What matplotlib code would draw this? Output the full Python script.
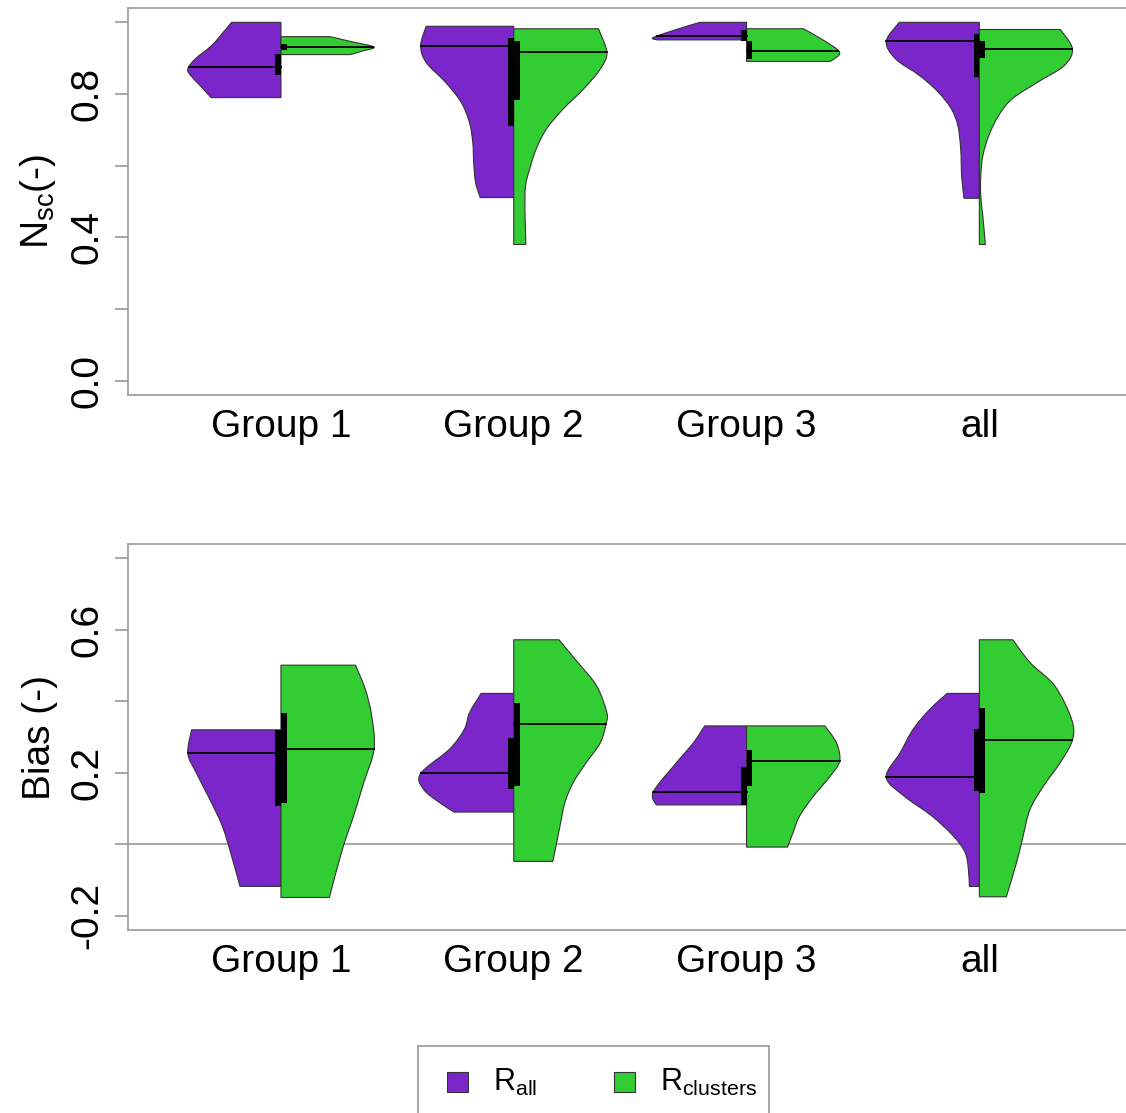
import numpy as np
import matplotlib
matplotlib.use("Agg")
import matplotlib.pyplot as plt
from matplotlib.patches import Rectangle, PathPatch
from matplotlib.path import Path

plt.rcParams["font.family"] = ["Liberation Sans", "DejaVu Sans"]
plt.rcParams["mathtext.fontset"] = "custom"
plt.rcParams["mathtext.rm"] = "Liberation Sans"

groups = ["Group 1", "Group 2", "Group 3", "all"]
purple = "#7B26CB"
green = "#32CD32"
gray = "#999999"

# violin outlines: levels and relative half widths (1 = widest)
# top panel, Nsc
nsc_rall_y = [[0.79, 0.824, 0.852, 0.870, 0.898, 0.935, 0.972, 1.0],
              [0.511, 0.553, 0.609, 0.665, 0.721, 0.777, 0.832, 0.888, 0.935, 0.989],
              [0.951, 0.958, 0.982, 1.0],
              [0.509, 0.571, 0.646, 0.711, 0.758, 0.805, 0.851, 0.898, 0.947, 1.0]]
nsc_rall_w = [[0.75, 0.87, 0.97, 1.0, 0.92, 0.745, 0.62, 0.53],
              [0.36, 0.41, 0.43, 0.44, 0.476, 0.565, 0.73, 0.94, 1.0, 0.94],
              [0.96, 1.0, 0.73, 0.50],
              [0.165, 0.19, 0.20, 0.23, 0.30, 0.44, 0.64, 0.90, 1.0, 0.86]]
nsc_rall_med = [0.874, 0.935, 0.961, 0.947]
nsc_rall_q1 = [0.852, 0.711, 0.949, 0.847]
nsc_rall_q3 = [0.912, 0.957, 0.979, 0.968]

nsc_rclu_y = [[0.910, 0.919, 0.931, 0.947, 0.960],
              [0.380, 0.422, 0.478, 0.543, 0.590, 0.646, 0.702, 0.758, 0.814, 0.870, 0.916, 0.982],
              [0.891, 0.916, 0.951, 0.982],
              [0.380, 0.460, 0.516, 0.571, 0.627, 0.683, 0.739, 0.786, 0.832, 0.879, 0.926, 0.980]]
nsc_rclu_w = [[0.75, 0.86, 1.0, 0.74, 0.53],
              [0.13, 0.126, 0.12, 0.126, 0.17, 0.24, 0.35, 0.53, 0.75, 0.93, 1.0, 0.91],
              [0.90, 1.0, 0.82, 0.61],
              [0.065, 0.037, 0.015, 0.015, 0.037, 0.10, 0.205, 0.35, 0.62, 0.91, 1.0, 0.87]]
nsc_rclu_med = [0.930, 0.916, 0.919, 0.926]
nsc_rclu_q1 = [0.924, 0.782, 0.898, 0.900]
nsc_rclu_q3 = [0.940, 0.949, 0.949, 0.949]

# bottom panel, Bias
bias_rall_y = [[-0.118, -0.033, 0.051, 0.126, 0.200, 0.254, 0.320],
               [0.090, 0.117, 0.154, 0.198, 0.266, 0.322, 0.368, 0.422],
               [0.110, 0.147, 0.229, 0.284, 0.331],
               [-0.118, -0.070, -0.023, 0.023, 0.079, 0.135, 0.188, 0.256, 0.322, 0.378, 0.422]]
bias_rall_w = [[0.44, 0.53, 0.63, 0.765, 0.91, 1.0, 0.96],
               [0.64, 0.80, 0.97, 1.0, 0.69, 0.53, 0.475, 0.35],
               [0.97, 1.0, 0.75, 0.57, 0.45],
               [0.107, 0.118, 0.153, 0.28, 0.51, 0.81, 1.0, 0.85, 0.71, 0.53, 0.345]]
bias_rall_med = [0.254, 0.198, 0.147, 0.188]
bias_rall_q1 = [0.107, 0.154, 0.110, 0.149]
bias_rall_q3 = [0.320, 0.298, 0.217, 0.322]

bias_rclu_y = [[-0.149, -0.014, 0.079, 0.173, 0.266, 0.359, 0.434, 0.501],
               [-0.048, 0.042, 0.117, 0.173, 0.229, 0.284, 0.336, 0.368, 0.443, 0.508, 0.572],
               [-0.008, 0.033, 0.079, 0.135, 0.191, 0.233, 0.284, 0.331],
               [-0.147, -0.051, 0.023, 0.098, 0.163, 0.229, 0.292, 0.350, 0.443, 0.508, 0.572]]
bias_rclu_w = [[0.52, 0.66, 0.78, 0.89, 1.0, 0.975, 0.905, 0.80],
               [0.42, 0.49, 0.55, 0.64, 0.78, 0.93, 0.99, 1.0, 0.89, 0.69, 0.485],
               [0.44, 0.50, 0.57, 0.72, 0.90, 1.0, 0.965, 0.84],
               [0.29, 0.40, 0.47, 0.545, 0.69, 0.87, 1.0, 0.99, 0.81, 0.545, 0.36]]
bias_rclu_med = [0.266, 0.336, 0.233, 0.292]
bias_rclu_q1 = [0.114, 0.163, 0.163, 0.142]
bias_rclu_q3 = [0.366, 0.396, 0.264, 0.382]

half = 0.4   # max half width of a violin
boxw = 0.025


def half_violin(ax, x0, ys, ws, med, q1, q3, color, side):
    ys = np.array(ys)
    ws = np.array(ws) * half * side
    P = np.column_stack([x0 + ws, ys])
    # smooth outline: catmull-rom through the read points, drawn as bezier
    verts = [(x0, ys[0]), tuple(P[0])]
    codes = [Path.MOVETO, Path.LINETO]
    n = len(P)
    for k in range(n - 1):
        p0 = P[max(k - 1, 0)]
        p1, p2 = P[k], P[k + 1]
        p3 = P[min(k + 2, n - 1)]
        verts += [tuple(p1 + (p2 - p0) / 6), tuple(p2 - (p3 - p1) / 6), tuple(p2)]
        codes += [Path.CURVE4] * 3
    verts += [(x0, ys[-1]), (x0, ys[0])]
    codes += [Path.LINETO, Path.CLOSEPOLY]
    ax.add_patch(PathPatch(Path(verts, codes), facecolor=color, edgecolor="#333333",
                           lw=0.8, zorder=2))
    wm = np.interp(med, ys, ws)
    ax.plot([x0, x0 + wm], [med, med], color="black", lw=1.3, zorder=3)
    bx = x0 if side > 0 else x0 - boxw
    ax.add_patch(Rectangle((bx, q1), boxw, q3 - q1, facecolor="black", edgecolor="none", zorder=4))


def style_axes(ax, ylim, ticks, labels, ylabel):
    ax.set_xlim(0.343, 4.66)
    ax.set_ylim(*ylim)
    for s in ax.spines.values():
        s.set_color(gray)
        s.set_linewidth(1.2)
    ax.set_xticks(range(1, 5))
    ax.set_xticklabels(groups, fontsize=28)
    ax.tick_params(axis="x", length=0, pad=10)
    ax.set_yticks(ticks)
    ax.set_yticklabels(labels, fontsize=28, rotation=90, va="center")
    ax.tick_params(axis="y", length=9.5, width=1.2, color=gray, pad=7)
    ax.set_ylabel(ylabel, fontsize=28)
    ax.yaxis.set_label_coords(-0.07, 0.5)


fig = plt.figure(figsize=(11.26, 11.13), dpi=100)
ax1 = fig.add_axes([128 / 1126, 1 - 395 / 1113, 1005 / 1126, 387 / 1113])
ax2 = fig.add_axes([128 / 1126, 1 - 930 / 1113, 1005 / 1126, 386 / 1113])

for i in range(4):
    half_violin(ax1, i + 1, nsc_rall_y[i], nsc_rall_w[i], nsc_rall_med[i],
                nsc_rall_q1[i], nsc_rall_q3[i], purple, -1)
    half_violin(ax1, i + 1, nsc_rclu_y[i], nsc_rclu_w[i], nsc_rclu_med[i],
                nsc_rclu_q1[i], nsc_rclu_q3[i], green, 1)
    half_violin(ax2, i + 1, bias_rall_y[i], bias_rall_w[i], bias_rall_med[i],
                bias_rall_q1[i], bias_rall_q3[i], purple, -1)
    half_violin(ax2, i + 1, bias_rclu_y[i], bias_rclu_w[i], bias_rclu_med[i],
                bias_rclu_q1[i], bias_rclu_q3[i], green, 1)

ax2.axhline(0, color=gray, lw=1.2, zorder=1)

style_axes(ax1, (-0.04, 1.04), [0, 0.2, 0.4, 0.6, 0.8, 1.0],
           ["0.0", "", "0.4", "", "0.8", ""], r"N$_{\mathregular{sc}}$(-)")
style_axes(ax2, (-0.24, 0.84), [-0.2, 0, 0.2, 0.4, 0.6, 0.8],
           ["-0.2", "", "0.2", "", "0.6", ""], "Bias (-)")

# legend drawn by hand, its bottom runs off the figure like in the original
fig.patches.append(Rectangle((418 / 1126, -0.05), 351 / 1126, 0.05 + 1 - 1046 / 1113,
                             transform=fig.transFigure, facecolor="white",
                             edgecolor=gray, lw=1.2))
fig.patches.append(Rectangle((447 / 1126, 1 - 1092 / 1113), 21 / 1126, 20 / 1113,
                             transform=fig.transFigure, facecolor=purple, edgecolor="#333333", lw=0.8))
fig.patches.append(Rectangle((614 / 1126, 1 - 1092 / 1113), 21 / 1126, 20 / 1113,
                             transform=fig.transFigure, facecolor=green, edgecolor="#333333", lw=0.8))
fig.text(493 / 1126, 1 - 1082 / 1113, r"R$_{\mathregular{all}}$", fontsize=22, va="center")
fig.text(660 / 1126, 1 - 1082 / 1113, r"R$_{\mathregular{clusters}}$", fontsize=22, va="center")

fig.savefig("out.png", dpi=100)
